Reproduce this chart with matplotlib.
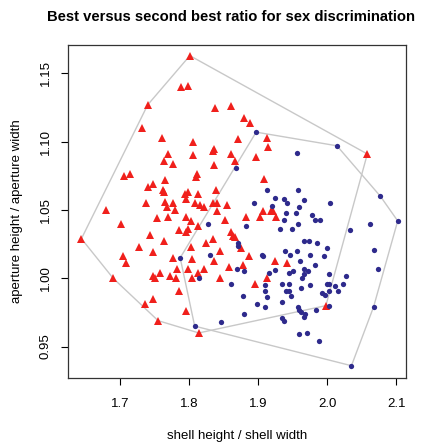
import matplotlib

matplotlib.use("Agg")

import matplotlib.pyplot as plt
import numpy as np

plt.rcParams["font.family"] = ["Liberation Sans", "DejaVu Sans"]

# females (red triangles): shell h/w, aperture h/w
red_x = [
    1.801, 1.788, 1.799, 1.740, 1.838, 1.860, 1.731, 1.760, 1.806, 1.836,
    1.835, 1.871, 1.770, 1.806, 1.763, 1.777, 1.836, 1.861, 1.866, 1.705,
    1.715, 1.811, 1.810, 1.765, 1.741, 1.748, 1.762, 1.764, 1.839, 1.799,
    1.794, 1.813, 1.795, 1.765, 1.777, 1.738, 1.808, 1.816, 1.821, 1.835,
    1.841, 1.855, 1.679, 1.768, 1.879, 1.888, 1.912, 1.897, 1.914, 1.908,
    2.058, 1.883, 1.902, 1.907, 1.918, 1.922, 1.926, 1.860, 1.864, 1.867,
    1.875, 1.887, 1.924, 1.942, 1.878, 1.896, 1.913, 1.998, 1.779, 1.841,
    1.753, 1.770, 1.796, 1.802, 1.813, 1.852, 1.785, 1.798, 1.796, 1.743,
    1.763, 1.803, 1.825, 1.834, 1.747, 1.777, 1.804, 1.836, 1.844, 1.782,
    1.758, 1.747, 1.751, 1.772, 1.781, 1.798, 1.804, 1.821, 1.813, 1.857,
    1.844, 1.785, 1.747, 1.796, 1.702, 1.727, 1.644, 1.704, 1.708, 1.690,
    1.736, 1.755, 1.814,
]
red_y = [
    1.163, 1.140, 1.141, 1.127, 1.125, 1.126, 1.110, 1.103, 1.100, 1.095,
    1.093, 1.102, 1.091, 1.090, 1.086, 1.084, 1.083, 1.091, 1.086, 1.075,
    1.076, 1.076, 1.074, 1.072, 1.067, 1.069, 1.065, 1.063, 1.065, 1.063,
    1.062, 1.062, 1.058, 1.056, 1.055, 1.055, 1.055, 1.054, 1.052, 1.055,
    1.055, 1.054, 1.050, 1.052, 1.117, 1.114, 1.103, 1.089, 1.096, 1.073,
    1.091, 1.045, 1.045, 1.049, 1.049, 1.049, 1.045, 1.034, 1.031, 1.030,
    1.022, 1.016, 1.013, 1.011, 1.010, 0.996, 1.000, 0.980, 1.050, 1.049,
    1.044, 1.045, 1.045, 1.042, 1.038, 1.043, 1.035, 1.036, 1.034, 1.032,
    1.027, 1.023, 1.026, 1.029, 1.019, 1.015, 1.014, 1.013, 1.020, 1.007,
    1.004, 1.002, 1.000, 1.002, 1.000, 1.007, 1.000, 1.007, 1.004, 1.008,
    1.000, 0.991, 0.985, 0.976, 1.040, 1.023, 1.029, 1.016, 1.011, 1.000,
    0.981, 0.969, 0.960,
]

# males (blue dots)
blue_x = [
    1.868, 1.897, 1.913, 1.894, 1.956, 2.014, 1.958, 1.925, 1.937, 1.941,
    1.967, 1.920, 1.959, 2.004, 2.077, 1.940, 1.955, 1.978, 1.982, 1.989,
    1.938, 1.958, 1.932, 1.949, 2.033, 1.966, 1.973, 1.985, 2.000, 1.939,
    1.956, 1.946, 1.975, 1.995, 1.905, 1.907, 1.960, 1.982, 1.925, 1.944,
    1.950, 1.966, 1.972, 1.966, 1.963, 2.002, 2.027, 1.916, 1.883, 2.062,
    2.102, 1.870, 1.870, 2.067, 2.073, 1.880, 1.869, 1.860, 1.814, 1.828,
    1.830, 1.787, 1.808, 1.846, 1.910, 1.910, 1.912, 1.934, 1.944, 1.962,
    1.975, 1.999, 2.003, 2.011, 2.023, 1.940, 1.945, 1.948, 1.993, 1.997,
    2.003, 2.016, 1.878, 1.898, 1.910, 1.935, 1.880, 1.957, 1.959, 1.962,
    1.968, 1.966, 1.984, 2.002, 2.067, 1.935, 1.938, 1.959, 1.970, 1.988,
    2.035,
]
blue_y = [
    1.081, 1.107, 1.065, 1.055, 1.092, 1.097, 1.065, 1.059, 1.058, 1.055,
    1.057, 1.053, 1.052, 1.055, 1.060, 1.048, 1.048, 1.046, 1.043, 1.043,
    1.043, 1.040, 1.036, 1.036, 1.035, 1.027, 1.027, 1.026, 1.022, 1.020,
    1.020, 1.017, 1.017, 1.016, 1.017, 1.016, 1.013, 1.010, 1.006, 1.004,
    1.005, 1.007, 1.005, 1.003, 1.000, 1.003, 1.002, 1.004, 1.038, 1.040,
    1.042, 1.026, 1.024, 1.021, 1.007, 1.005, 1.007, 0.996, 1.000, 1.040,
    1.017, 1.015, 0.965, 0.968, 0.995, 0.991, 0.986, 0.996, 0.996, 0.993,
    0.995, 0.996, 0.996, 0.994, 0.996, 0.991, 0.991, 0.987, 0.989, 0.988,
    0.991, 0.991, 0.987, 0.981, 0.979, 0.983, 0.974, 0.979, 0.977, 0.975,
    0.974, 0.972, 0.977, 0.980, 0.979, 0.971, 0.969, 0.959, 0.960, 0.954,
    0.936,
]

x_ticks = [1.7, 1.8, 1.9, 2.0, 2.1]
y_ticks = [0.95, 1.00, 1.05, 1.10, 1.15]

RED = "#f0201c"
BLUE = "#2e2a8c"
HULL = "#c8c8c8"


def convex_hull(xs, ys):
    pts = sorted(set(zip(xs, ys)))

    def cross(o, a, b):
        return (a[0] - o[0]) * (b[1] - o[1]) - (a[1] - o[1]) * (b[0] - o[0])

    lower = []
    for p in pts:
        while len(lower) >= 2 and cross(lower[-2], lower[-1], p) <= 0:
            lower.pop()
        lower.append(p)
    upper = []
    for p in reversed(pts):
        while len(upper) >= 2 and cross(upper[-2], upper[-1], p) <= 0:
            upper.pop()
        upper.append(p)
    hull = lower[:-1] + upper[:-1]
    hull.append(hull[0])
    return np.array(hull)


fig = plt.figure(figsize=(4.31, 4.44), dpi=100)
ax = fig.add_axes([0.1585, 0.1486, 0.7835, 0.7507])

for xs, ys in ((red_x, red_y), (blue_x, blue_y)):
    hull = convex_hull(xs, ys)
    ax.plot(hull[:, 0], hull[:, 1], color=HULL, lw=1.0, zorder=1)

ax.plot(red_x, red_y, linestyle="none", marker="^", color=RED,
        markersize=5.6, markeredgewidth=0, zorder=2)
ax.plot(blue_x, blue_y, linestyle="none", marker="o", color=BLUE,
        markersize=3.8, markeredgewidth=0, zorder=3)

ax.set_xlim(1.625, 2.114)
ax.set_ylim(0.927, 1.171)
ax.set_xticks(x_ticks)
ax.set_xticklabels([f"{v:.1f}" for v in x_ticks])
ax.set_yticks(y_ticks)
ax.set_yticklabels([f"{v:.2f}" for v in y_ticks], rotation=90, va="center")
ax.tick_params(direction="out", length=5, width=0.8, labelsize=9.5)
ax.tick_params(axis="x", pad=9.5)
ax.tick_params(axis="y", pad=7)
for spine in ax.spines.values():
    spine.set_color("#333333")
    spine.set_linewidth(0.9)

ax.set_xlabel("shell height / shell width", fontsize=9.5, labelpad=14)
ax.set_ylabel("aperture height / aperture width", fontsize=9.5, labelpad=12)
fig.text(0.536, 0.962, "Best versus second best ratio for sex discrimination",
         ha="center", va="center", fontsize=10.6, fontweight="bold")

fig.savefig("out.png", dpi=100)
